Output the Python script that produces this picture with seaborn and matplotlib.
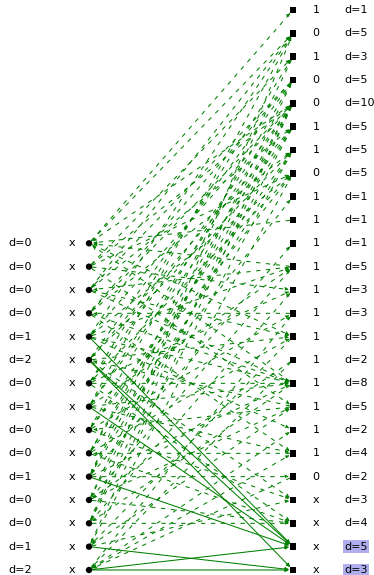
import matplotlib
matplotlib.use("Agg")
import matplotlib.pyplot as plt
from matplotlib.patches import FancyArrowPatch
import seaborn as sns
import pandas as pd

# Left column: level labels
left_d = [0, 0, 0, 0, 1, 2, 0, 1, 0, 0, 1, 0, 0, 1, 2]
left_mark = ["x"] * 15
# Right column: state and degree labels
right_state = ["1", "0", "1", "0", "0", "1", "1", "0", "1", "1",
               "1", "1", "1", "1", "1", "1", "1", "1", "1", "1",
               "0", "x", "x", "x", "x"]
right_d = [1, 5, 3, 5, 10, 5, 5, 5, 1, 1,
           1, 5, 3, 3, 5, 2, 8, 5, 2, 4,
           2, 3, 4, 5, 3]
highlighted = [23, 24]

# Candidate edges (dashed): left index, right index, arrow towards left?
edge_left = [0, 0, 0, 0, 0, 0, 0,
             1, 1, 1, 1, 1,
             2, 2, 2, 2, 2, 2,
             3, 3, 3, 3, 3, 3,
             4, 4, 4, 4, 4, 4,
             5, 5, 5, 5, 5, 5,
             6, 6, 6, 6, 6, 6,
             7, 7, 7, 7, 7, 7,
             8, 8, 8, 8, 8, 8,
             9, 9, 9, 9, 9, 9,
             10, 10, 10, 10, 10, 10,
             11, 11, 11, 11, 11, 11,
             12, 12, 12, 12, 12, 12,
             13, 13, 13, 13, 13,
             14, 14, 14, 14, 14]
edge_right = [0, 1, 4, 9, 11, 14, 16,
              2, 4, 7, 12, 17,
              1, 3, 5, 11, 14, 16,
              3, 4, 6, 13, 16, 19,
              1, 4, 7, 11, 16, 18,
              3, 5, 6, 14, 17, 21,
              2, 4, 7, 12, 16, 22,
              1, 4, 5, 11, 16, 19,
              3, 6, 7, 13, 17, 21,
              4, 5, 8, 14, 19, 22,
              2, 4, 6, 10, 16, 20,
              3, 5, 11, 15, 17, 22,
              1, 4, 6, 12, 16, 22,
              4, 7, 14, 17, 21,
              13, 15, 18, 19, 20]
edge_back = [0, 0, 1, 1, 1, 0, 1,
             0, 0, 0, 0, 0,
             0, 1, 0, 1, 0, 0,
             1, 0, 0, 1, 0, 0,
             0, 1, 0, 0, 0, 0,
             0, 1, 0, 0, 1, 0,
             0, 0, 1, 0, 0, 0,
             0, 1, 0, 0, 0, 0,
             1, 0, 0, 0, 1, 0,
             0, 1, 0, 0, 1, 0,
             1, 0, 1, 0, 0, 0,
             0, 1, 0, 1, 0, 0,
             0, 1, 0, 0, 1, 0,
             1, 0, 1, 0, 0,
             0, 1, 0, 0, 1]

# Edges into the highlighted right nodes (solid)
solid_left = [4, 5, 5, 7, 10, 13, 14, 14]
solid_right = [23, 23, 24, 23, 23, 24, 23, 24]

left_rows = list(range(10, 25))
right_rows = list(range(0, 25))

nodes = pd.DataFrame({
    "col": [0] * len(left_rows) + [1] * len(right_rows),
    "row": left_rows + right_rows,
    "side": ["L"] * len(left_rows) + ["R"] * len(right_rows),
})

sns.set_theme(style="white")
plt.rcParams["font.family"] = ["DejaVu Sans"]

W, H, DPI = 374, 575, 100
fig = plt.figure(figsize=(W / DPI, H / DPI), dpi=DPI)
ax = fig.add_axes([0, 0, 1, 1])

# pixel layout of the two columns
x0_px, x1_px = 89, 293
y0_px, row_px = 10, 23.333
ax.set_xlim(-x0_px / (x1_px - x0_px), (W - x0_px) / (x1_px - x0_px))
ax.set_ylim(24 + (H - (y0_px + 24 * row_px)) / row_px, -y0_px / row_px)
ax.axis("off")

green = "#008000"
dash = (0, (3.5, 6.0))

def draw_edge(r_left, r_right, back, style):
    a = (0, r_left)
    b = (1, r_right)
    if back:
        a, b = b, a
    arr = FancyArrowPatch(a, b, arrowstyle="-|>", mutation_scale=5.5,
                          shrinkA=2.5, shrinkB=2.8, lw=0.75,
                          color=green, linestyle=style, zorder=1)
    ax.add_patch(arr)

for li, ri, bk in zip(edge_left, edge_right, edge_back):
    draw_edge(left_rows[li], right_rows[ri], bk, dash)

for li, ri in zip(solid_left, solid_right):
    draw_edge(left_rows[li], right_rows[ri], 0, "-")

sns.scatterplot(data=nodes, x="col", y="row", style="side",
                markers={"L": "o", "R": "s"}, color="black", s=21,
                linewidth=0, legend=False, ax=ax, zorder=3)
ax.set_xlabel("")
ax.set_ylabel("")
ax.axis("off")

fs = 8
for i, r in enumerate(left_rows):
    ax.annotate(f"d={left_d[i]}", (0, r), xytext=(-81 * 72 / DPI, 0),
                textcoords="offset points", ha="left", va="center",
                fontsize=fs, color="black")
    ax.annotate(left_mark[i], (0, r), xytext=(-17 * 72 / DPI, 0),
                textcoords="offset points", ha="center", va="center",
                fontsize=fs, color="black")

for i, r in enumerate(right_rows):
    ax.annotate(right_state[i], (1, r), xytext=(23 * 72 / DPI, 0),
                textcoords="offset points", ha="center", va="center",
                fontsize=fs, color="black")
    box = None
    if i in highlighted:
        box = dict(boxstyle="square,pad=0.12", facecolor="#afafef",
                   edgecolor="none")
    ax.annotate(f"d={right_d[i]}", (1, r), xytext=(51 * 72 / DPI, 0),
                textcoords="offset points", ha="left", va="center",
                fontsize=fs, color="black", bbox=box)

fig.savefig("out.png", dpi=DPI)
